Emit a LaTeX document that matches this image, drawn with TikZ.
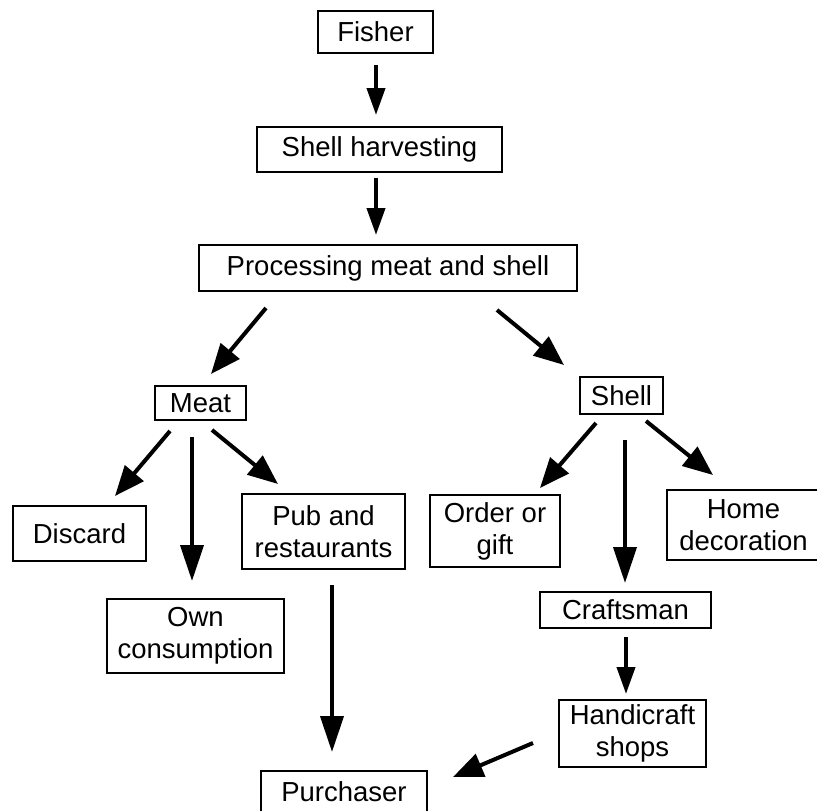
\documentclass[tikz,border=0pt]{standalone}
\usepackage{fontspec}
\setmainfont{Liberation Sans}
\usetikzlibrary{arrows.meta}
\begin{document}
\begin{tikzpicture}[x=1pt,y=-1pt,
  box/.style={draw, line width=1.8pt, inner sep=0pt, align=center, font=\fontsize{27.5}{32}\selectfont},
  arrs/.style={line width=4pt, -{Triangle[length=27pt,width=18pt]}},
  arr/.style={line width=4pt, -{Triangle[length=30pt,width=24pt]}},
  arrl/.style={line width=4pt, -{Triangle[length=36pt,width=23pt]}}]
\useasboundingbox (0,0) rectangle (817,811);
% boxes
\node[box, minimum width=115pt, minimum height=42pt] (fisher) at (375.5,32) {Fisher};
\node[box, minimum width=245pt, minimum height=45pt] (harv) at (379.5,149.5) {Shell harvesting};
\node[box, minimum width=378pt, minimum height=46pt] (proc) at (388,268) {Processing meat and shell};
\node[box, minimum width=91pt, minimum height=34pt] (meat) at (200.5,403) {Meat};
\node[box, minimum width=83pt, minimum height=37pt] (shell) at (621.5,395.5) {Shell};
\node[box, minimum width=133pt, minimum height=55pt] (discard) at (79.5,533.5) {Discard};
\node[box, minimum width=163pt, minimum height=75pt] (pub) at (323.5,531.5) {Pub and\\restaurants};
\node[box, minimum width=177pt, minimum height=74pt] (own) at (195.5,636) {Own\\consumption};
\node[box, minimum width=130pt, minimum height=72pt] (order) at (495,531) {Order or\\gift};
\node[box, minimum width=153pt, minimum height=70pt] (home) at (743.5,525) {Home\\decoration};
\node[box, minimum width=171pt, minimum height=36pt] (craft) at (625.5,610) {Craftsman};
\node[box, minimum width=147pt, minimum height=67pt] (handi) at (632.5,733.5) {Handicraft\\shops};
\node[box, minimum width=166pt, minimum height=42pt] (purch) at (344,792) {Purchaser};
% arrow end points
\coordinate (a1s) at (376,65);  \coordinate (a1e) at (376,115);
\coordinate (a2s) at (376,178); \coordinate (a2e) at (376,235);
\coordinate (a3s) at (266,308); \coordinate (a3e) at (211,374);
\coordinate (a4s) at (497,310); \coordinate (a4e) at (564,365);
\coordinate (a5s) at (170,431); \coordinate (a5e) at (115,496);
\coordinate (a6s) at (192,437); \coordinate (a6e) at (192,581);
\coordinate (a7s) at (212,430); \coordinate (a7e) at (278,484);
\coordinate (a8s) at (596,423); \coordinate (a8e) at (540,488);
\coordinate (a9s) at (625,440); \coordinate (a9e) at (625,583);
\coordinate (a10s) at (646,421); \coordinate (a10e) at (713,475);
\coordinate (a11s) at (626,637); \coordinate (a11e) at (626,694);
\coordinate (a12s) at (332,585); \coordinate (a12e) at (332,752);
\coordinate (a13s) at (533,743); \coordinate (a13e) at (453,777);
% arrows
\draw[arrs] (a1s) -- (a1e);
\draw[arrs] (a2s) -- (a2e);
\draw[arr] (a3s) -- (a3e);
\draw[arr] (a4s) -- (a4e);
\draw[arr] (a5s) -- (a5e);
\draw[arrl] (a6s) -- (a6e);
\draw[arr] (a7s) -- (a7e);
\draw[arr] (a8s) -- (a8e);
\draw[arrl] (a9s) -- (a9e);
\draw[arr] (a10s) -- (a10e);
\draw[arrs] (a11s) -- (a11e);
\draw[arrl] (a12s) -- (a12e);
\draw[arr] (a13s) -- (a13e);
\end{tikzpicture}
\end{document}
